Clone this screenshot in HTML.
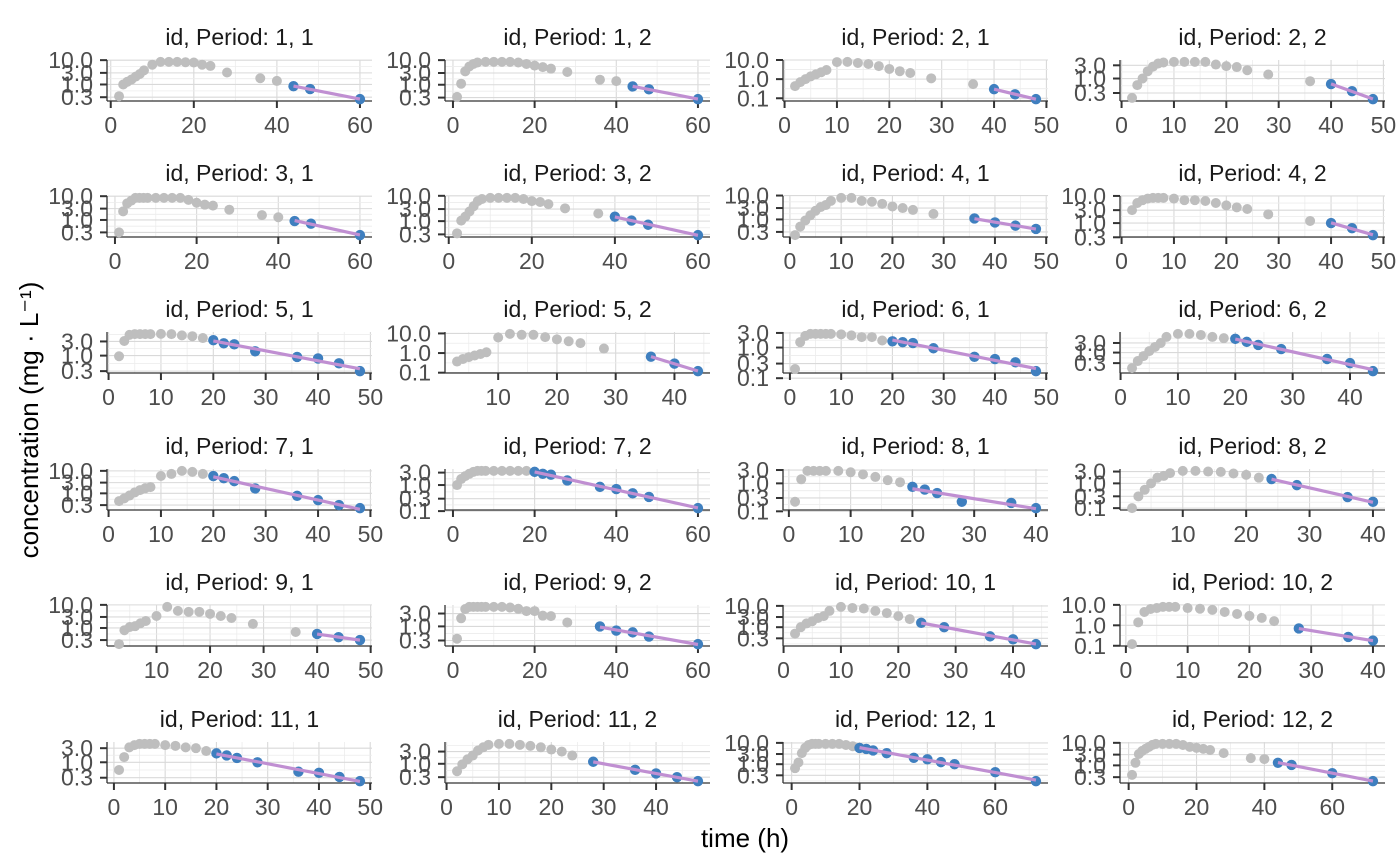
<!DOCTYPE html>
<html><head><meta charset="utf-8"><title>Concentration-time facets</title>
<style>
html,body{margin:0;padding:0;background:#fff;}
svg{display:block;font-family:"Liberation Sans",Arial,sans-serif;}
</style></head>
<body>
<svg id="chart" width="1400" height="866" viewBox="0 0 1400 866" xmlns="http://www.w3.org/2000/svg">
<rect width="1400" height="866" fill="#fff"/>
<text transform="translate(38,420) rotate(-90)" text-anchor="middle" font-size="26" fill="#000">concentration (mg · L⁻¹)</text>
<text x="745" y="847" text-anchor="middle" font-size="26" fill="#000">time (h)</text>
<g id="panels"></g>
</svg>
<script>
const panelTitles = ["id, Period: 1, 1","id, Period: 1, 2","id, Period: 2, 1","id, Period: 2, 2",
"id, Period: 3, 1","id, Period: 3, 2","id, Period: 4, 1","id, Period: 4, 2",
"id, Period: 5, 1","id, Period: 5, 2","id, Period: 6, 1","id, Period: 6, 2",
"id, Period: 7, 1","id, Period: 7, 2","id, Period: 8, 1","id, Period: 8, 2",
"id, Period: 9, 1","id, Period: 9, 2","id, Period: 10, 1","id, Period: 10, 2",
"id, Period: 11, 1","id, Period: 11, 2","id, Period: 12, 1","id, Period: 12, 2"];
const times = [
[2,3,4,5,6,7,8,10,12,14,16,18,20,22,24,28,36,40,44,48,60],
[1,2,3,4,5,6,8,10,12,14,16,18,20,22,24,28,36,40,44,48,60],
[2,3,4,5,6,7,8,10,12,14,16,18,20,22,24,28,36,40,44,48],
[2,3,4,5,6,7,8,10,12,14,16,18,20,22,24,28,36,40,44,48],
[1,2,3,4,5,6,7,8,10,12,14,16,18,20,22,24,28,36,40,44,48,60],
[2,3,4,5,6,7,8,10,12,14,16,18,20,22,24,28,36,40,44,48,60],
[1,2,3,4,5,6,7,8,10,12,14,16,18,20,22,24,28,36,40,44,48],
[2,3,4,5,6,7,8,10,12,14,16,18,20,22,24,28,36,40,44,48],
[2,3,4,5,6,7,8,10,12,14,16,18,20,22,24,28,36,40,44,48],
[3,4,5,6,7,8,10,12,14,16,18,20,22,24,28,36,40,44],
[1,2,3,4,5,6,7,8,10,12,14,16,18,20,22,24,28,36,40,44,48],
[2,3,4,5,6,7,8,10,12,14,16,18,20,22,24,28,36,40,44],
[2,3,4,5,6,7,8,10,12,14,16,18,20,22,24,28,36,40,44,48],
[1,2,3,4,5,6,7,8,10,12,14,16,18,20,22,24,28,36,40,44,48,60],
[1,2,3,4,5,6,8,10,12,14,16,18,20,22,24,28,36,40],
[2,3,4,5,6,7,8,10,12,14,16,18,20,22,24,28,36,40],
[3,4,5,6,7,8,10,12,14,16,18,20,22,24,28,36,40,44,48],
[1,2,3,4,5,6,7,8,10,12,14,16,18,20,22,24,28,36,40,44,48,60],
[2,3,4,5,6,7,8,10,12,14,16,18,20,22,24,28,36,40,44],
[1,2,3,4,5,6,7,8,10,12,14,16,18,20,22,24,28,36,40],
[1,2,3,4,5,6,7,8,10,12,14,16,18,20,22,24,28,36,40,44,48],
[2,3,4,5,6,7,8,10,12,14,16,18,20,22,24,28,36,40,44,48],
[1,2,3,4,5,6,7,8,10,12,14,16,18,20,22,24,28,36,40,44,48,60,72],
[1,2,3,4,5,6,7,8,10,12,14,16,18,20,22,24,28,36,40,44,48,60,72]];
const conc = [
[0.33,1.0,1.3,1.6,2.1,2.7,3.8,6.5,8.5,8.5,8.5,8.2,8,6.5,5.8,3.1,1.8,1.4,0.85,0.65,0.25],
[0.32,1.1,3.5,5.5,7,8,8.5,8.5,8.5,8.5,8,7,6,5.2,4.5,3.3,1.6,1.4,0.85,0.65,0.26],
[0.43,0.7,1.0,1.4,1.8,2.3,3,7.8,8,7,6.2,4.8,3.4,2.6,2.1,1.1,0.55,0.3,0.16,0.09],
[0.2,0.58,1.0,1.84,2.7,3.5,3.8,4,4,4,4,3.2,2.8,2.6,2.0,1.4,0.8,0.63,0.35,0.18],
[0.3,2.3,5,6.5,8.5,8.5,8.5,8.5,8.5,8.5,8.5,8.5,7,5.3,4.4,4,2.7,1.6,1.3,0.9,0.7,0.23],
[0.33,1.05,1.5,2.4,3.9,6.2,7.5,8.3,8.3,8.3,8.3,7.5,6.2,5.7,4.7,3.2,2.0,1.5,1.05,0.72,0.28],
[0.22,0.5,0.9,1.5,2.3,3.3,4,6,8,8,6,5.5,4.5,3.5,3,2.5,1.7,1.1,0.75,0.55,0.4],
[3,5.5,7,8,8.5,8.5,8.5,8,7,7,6.5,5.5,4.5,3.8,3.3,2.1,1.2,1.0,0.65,0.36],
[0.95,3.1,5,5.3,5.3,5.3,5.3,5.4,5.3,4.8,4.5,3.9,3.3,2.6,2.4,1.4,0.9,0.8,0.55,0.3],
[0.37,0.5,0.62,0.75,0.9,1.1,6.2,9.5,8.5,8.5,6.5,5,4,3.2,1.7,0.65,0.29,0.12],
[0.2,1.5,2.4,2.8,2.8,2.8,2.8,2.8,2.7,2.5,2.2,2.2,1.7,1.6,1.5,1.4,0.95,0.5,0.42,0.33,0.17],
[0.17,0.38,0.67,1.19,1.9,3.0,6,8.5,8.5,7.5,6,5.2,4.8,3.4,2.4,1.5,0.48,0.3,0.12],
[0.45,0.6,0.8,1.1,1.4,1.7,1.9,5.9,7.3,10,9,7.3,5.9,4.7,3.5,1.65,0.78,0.5,0.3,0.22],
[1.0,1.7,2.2,2.7,3.2,3.5,3.5,3.5,3.5,3.5,3.5,3.5,3.5,3.2,2.7,2.5,1.5,0.85,0.7,0.48,0.35,0.13],
[0.22,1.4,2.8,2.8,2.8,2.8,2.8,2.5,2.1,1.7,1.3,1.1,0.75,0.6,0.45,0.22,0.2,0.13],
[0.1,0.3,0.55,1.0,1.7,2.0,2.6,3.2,3.2,3.0,2.9,2.5,2.2,1.7,1.5,0.85,0.28,0.18],
[0.2,0.8,1.1,1.2,1.6,2.0,3.3,8.2,5.5,5,5,4.1,3.3,2.7,1.5,0.67,0.55,0.4,0.3],
[0.35,2.0,4.4,5.3,5.3,5.3,5.3,5.3,5.3,5.3,5.0,4.5,3.7,3.7,2.5,2.4,1.4,1.0,0.7,0.6,0.42,0.22],
[0.5,1.0,1.5,1.9,2.7,3.3,5.8,9,8,7.5,5.8,4.6,3.3,2.4,1.6,1.0,0.37,0.27,0.16],
[0.12,1.4,4.5,6.3,7,8,8,8,7,6.5,5.7,4.5,3.6,2.9,2.3,1.6,0.7,0.27,0.18],
[0.55,1.5,3.2,3.8,4.2,4.2,4.2,4.2,3.8,3.6,3.2,3.0,2.4,2.0,1.7,1.4,1.0,0.48,0.44,0.32,0.23],
[0.51,0.95,1.5,2.1,3.3,4.4,5.5,6,6,5.5,5,4.4,3.6,3,2.1,1.2,0.58,0.42,0.3,0.21],
[0.65,1.2,3.3,5.8,8,9,9,9,9,9,9,8,7,5.8,5.2,4.4,3.3,2.0,1.7,1.25,1.0,0.42,0.16],
[0.38,1.3,3.2,4.4,5.4,6.6,8.1,9,9,9,9,8,6.6,6,5.4,4.8,3.5,2.1,1.9,1.3,1.05,0.45,0.2]];
const nTerminal = [3,3,3,3,3,4,4,3,8,3,8,7,8,9,6,4,3,5,5,3,8,5,10,4];
const yTicks = [
[0.3,1,3,10],[0.3,1,3,10],[0.1,1,10],[0.3,1,3],
[0.3,1,3,10],[0.3,1,3,10],[0.3,1,3,10],[0.3,1,3,10],
[0.3,1,3],[0.1,1,10],[0.1,0.3,1,3],[0.3,1,3],
[0.3,1,3,10],[0.1,0.3,1,3],[0.1,0.3,1,3],[0.1,0.3,1,3],
[0.3,1,3,10],[0.3,1,3],[0.3,1,3,10],[0.1,1,10],
[0.3,1,3],[0.3,1,3],[0.3,1,3,10],[0.3,1,3,10]];
const xTicks = [
[0,20,40,60],[0,20,40,60],[0,10,20,30,40,50],[0,10,20,30,40,50],
[0,20,40,60],[0,20,40,60],[0,10,20,30,40,50],[0,10,20,30,40,50],
[0,10,20,30,40,50],[10,20,30,40],[0,10,20,30,40,50],[0,10,20,30,40],
[0,10,20,30,40,50],[0,20,40,60],[0,10,20,30,40],[10,20,30,40],
[10,20,30,40,50],[0,20,40,60],[0,10,20,30,40],[0,10,20,30,40],
[0,10,20,30,40,50],[0,10,20,30,40],[0,20,40,60],[0,20,40,60]];

const NS = "http://www.w3.org/2000/svg";
const colLefts = [107,445,783,1120];
const rowTops = [60,196,332,469,605,742];
const PW = 265, PH = 41;
const root = document.getElementById('panels');
function mk(tag, attrs, parent){
  const e = document.createElementNS(NS, tag);
  for (const k in attrs) e.setAttribute(k, attrs[k]);
  parent.appendChild(e);
  return e;
}
function fmt(v){ return v.toFixed(1); }

for (let p = 0; p < panelTitles.length; p++) {
  const L = colLefts[p % 4], T = rowTops[Math.floor(p / 4)];
  const R = L + PW, B = T + PH;
  const ts = times[p], cs = conc[p];
  const tmin = Math.min(...ts), tmax = Math.max(...ts);
  const tpad = (tmax - tmin) * 0.05;
  const lc = cs.map(v => Math.log10(v));
  const lmin = Math.min(...lc), lmax = Math.max(...lc);
  const lpad = (lmax - lmin) * 0.05;
  const xs = t => L + (t - (tmin - tpad)) / ((tmax + tpad) - (tmin - tpad)) * PW;
  const ys = v => B - (Math.log10(v) - (lmin - lpad)) / ((lmax + lpad) - (lmin - lpad)) * PH;

  const g = mk('g', {}, root);
  
  

  const title = mk('text', {x: L + PW / 2, y: T - 15, 'text-anchor': 'middle', 'font-size': 23, fill: '#1a1a1a'}, g);
  title.textContent = panelTitles[p];
  
  

  const grid = mk('g', {}, g);
  
  
  const xt = xTicks[p];
  const step = xt[1] - xt[0];
  const xMinor = [];
  for (let v = xt[0] - step / 2; v <= xt[xt.length - 1] + step / 2; v += step) xMinor.push(v);
  xMinor.forEach(v => { const X = xs(v); if (X > L && X < R) mk('line', {x1: X, x2: X, y1: T, y2: B, stroke: '#ececec', 'stroke-width': 0.8}, grid); });
  xt.forEach(v => { const X = xs(v); if (X >= L && X <= R) mk('line', {x1: X, x2: X, y1: T, y2: B, stroke: '#d9d9d9', 'stroke-width': 1.1}, grid); });
  const yt = yTicks[p];
  const ylog = yt.map(v => Math.log10(v));
  const yMinor = [];
  for (let i = 0; i < ylog.length - 1; i++) yMinor.push((ylog[i] + ylog[i + 1]) / 2);
  yMinor.push(ylog[0] - (ylog[1] - ylog[0]) / 2);
  yMinor.push(ylog[ylog.length - 1] + (ylog[ylog.length - 1] - ylog[ylog.length - 2]) / 2);
  yMinor.forEach(lv => { const Y = ys(Math.pow(10, lv)); if (Y > T && Y < B) mk('line', {x1: L, x2: R, y1: Y, y2: Y, stroke: '#ececec', 'stroke-width': 0.8}, grid); });
  yt.forEach(v => { const Y = ys(v); mk('line', {x1: L, x2: R, y1: Y, y2: Y, stroke: '#d9d9d9', 'stroke-width': 1.1}, grid); });

  const ax = mk('line', {x1: L, x2: L, y1: T, y2: B, stroke: '#333', 'stroke-width': 1.3}, g);
  
  
  const bx = mk('line', {x1: L, x2: R, y1: B, y2: B, stroke: '#333', 'stroke-width': 1.3}, g);
  
  

  yt.forEach(v => {
    const Y = ys(v);
    mk('line', {x1: L - 7, x2: L, y1: Y, y2: Y, stroke: '#333', 'stroke-width': 2}, g);
    const lab = mk('text', {x: L - 14, y: Y + 8, 'text-anchor': 'end', 'font-size': 23, fill: '#4d4d4d'}, g);
    lab.textContent = fmt(v);
    
    
  });
  xt.forEach(v => {
    const X = xs(v);
    mk('line', {x1: X, x2: X, y1: B, y2: B + 7, stroke: '#333', 'stroke-width': 2}, g);
    const lab = mk('text', {x: X, y: B + 32, 'text-anchor': 'middle', 'font-size': 23, fill: '#4d4d4d'}, g);
    lab.textContent = String(v);
    
    
  });

  const n = ts.length, nb = nTerminal[p];
  for (let i = 0; i < n - nb; i++) {
    const c = mk('circle', {cx: xs(ts[i]), cy: ys(cs[i]), r: 5, fill: '#bebebe'}, g);
    
    
  }
  const bt = ts.slice(n - nb), bl = lc.slice(n - nb);
  const mt = bt.reduce((a, b) => a + b, 0) / nb, ml = bl.reduce((a, b) => a + b, 0) / nb;
  let sxy = 0, sxx = 0;
  for (let i = 0; i < nb; i++) { sxy += (bt[i] - mt) * (bl[i] - ml); sxx += (bt[i] - mt) * (bt[i] - mt); }
  const slope = sxx ? sxy / sxx : 0;
  const t0 = bt[0], t1 = bt[nb - 1];
  const l0 = ml + slope * (t0 - mt), l1 = ml + slope * (t1 - mt);
  for (let i = n - nb; i < n; i++) {
    const c = mk('circle', {cx: xs(ts[i]), cy: ys(cs[i]), r: 5.2, fill: '#3f7fbf'}, g);
    
    
  }
  const line = mk('line', {x1: xs(t0), y1: ys(Math.pow(10, l0)), x2: xs(t1), y2: ys(Math.pow(10, l1)), stroke: '#c08fd2', 'stroke-width': 3.2, 'stroke-linecap': 'butt'}, g);
  
  
}
</script>
</body></html>
